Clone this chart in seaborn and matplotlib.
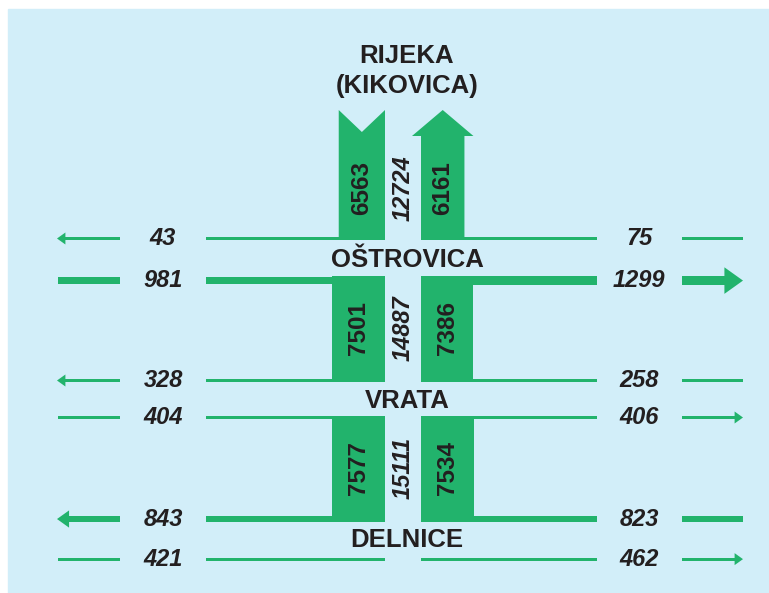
import matplotlib
matplotlib.use("Agg")
import matplotlib.pyplot as plt
import seaborn as sns
from matplotlib import font_manager
from matplotlib.patches import Polygon, Rectangle

# Traffic counts (vehicles/day)
nodes = ["RIJEKA\n(KIKOVICA)", "OŠTROVICA", "VRATA", "DELNICE"]
seg_down = [6563, 7501, 7577]      # left bars, Rijeka -> Delnice
seg_up = [6161, 7386, 7534]        # right bars, Delnice -> Rijeka
seg_total = [12724, 14887, 15111]
left_out = [43, 328, 843]          # leaving to the left (upper rows)
left_in = [981, 404, 421]          # coming from the left (lower rows)
right_in = [75, 258, 823]          # coming from the right (upper rows)
right_out = [1299, 406, 462]       # leaving to the right (lower rows)

# Layout (pixel space)
GREEN = "#22b36c"
BG = "#d2eef9"
INK = "#231f20"
SCALE = 0.00705                    # px per vehicle
XC_L, XC_R = 385, 421              # inner edges of the bars
seg_top = [110, 276, 416]
seg_bot = [240, 382, 522]
label_y = [71, 260, 401, 540]

sns.set_theme(style="white")
names = {f.name for f in font_manager.fontManager.ttflist}
num_font = "Liberation Sans Narrow" if "Liberation Sans Narrow" in names else "Liberation Sans"
num_size = 19.5 if num_font == "Liberation Sans Narrow" else 17
plt.rcParams["font.family"] = ["Liberation Sans", "DejaVu Sans"]

fig = plt.figure(figsize=(7.69, 5.93), dpi=100)
ax = fig.add_axes([0, 0, 1, 1])
ax.set_xlim(0, 769)
ax.set_ylim(593, 0)
ax.axis("off")
ax.add_patch(Rectangle((8, 9), 761, 584, color=BG, zorder=0))


def thick(v):
    return max(v * SCALE, 3.0)


def hline(x0, x1, yc, t):
    ax.barh(yc, x1 - x0, left=x0, height=t, color=GREEN, linewidth=0, zorder=2)


def arrow(tip, tail, yc, t):
    hw = max(2.9 * t, 12)
    hl = 0.7 * hw
    d = 1 if tail > tip else -1
    hline(min(tip + d * (hl - 1), tail), max(tip + d * (hl - 1), tail), yc, t)
    ax.add_patch(Polygon([(tip, yc), (tip + d * hl, yc - hw / 2), (tip + d * hl, yc + hw / 2)],
                         closed=True, color=GREEN, linewidth=0, zorder=2))


def num(x, y, v, rot=0):
    ax.text(x, y, str(v), ha="center", va="center", rotation=rot, fontsize=num_size,
            family=num_font, fontweight="bold", style="italic", color=INK, zorder=4)


def bar_num(x, y, v):
    ax.text(x, y, str(v), ha="center", va="center", rotation=90, fontsize=17.5,
            fontweight="bold", color=INK, zorder=4)


# side flows at each node
for i in range(3):
    t_up = [thick(left_out[i]), thick(right_in[i])]
    y_up = seg_bot[i] - max(t_up) / 2
    t_lo = [thick(left_in[i]), thick(right_out[i])]
    lo_top = seg_top[i + 1] if i + 1 < 3 else 557.5
    y_lo = lo_top + max(t_lo) / 2

    # upper row: out to the left, in from the right
    arrow(57, 120, y_up, t_up[0])
    hline(206, XC_L, y_up, t_up[0])
    num(163, y_up, left_out[i])
    hline(XC_R, 597, y_up, t_up[1])
    hline(682, 743, y_up, t_up[1])
    num(639, y_up, right_in[i])

    # lower row: in from the left, out to the right
    hline(58, 120, y_lo, t_lo[0])
    hline(206, XC_L, y_lo, t_lo[0])
    num(163, y_lo, left_in[i])
    hline(XC_R, 597, y_lo, t_lo[1])
    arrow(743, 682, y_lo, t_lo[1])
    num(639, y_lo, right_out[i])

# main road segments
for i in range(3):
    wd = seg_down[i] * SCALE
    wu = seg_up[i] * SCALE
    top, bot = seg_top[i], seg_bot[i]
    if i == 0:
        notch, head = 22, 26
        ax.add_patch(Polygon([(XC_L - wd, bot), (XC_L - wd, top), (XC_L - wd / 2, top + notch),
                              (XC_L, top), (XC_L, bot)], closed=True, color=GREEN,
                             linewidth=0, zorder=3))
        ov = 9
        ax.add_patch(Polygon([(XC_R, bot), (XC_R, top + head), (XC_R - ov, top + head),
                              (XC_R + wu / 2, top), (XC_R + wu + ov, top + head),
                              (XC_R + wu, top + head), (XC_R + wu, bot)], closed=True,
                             color=GREEN, linewidth=0, zorder=3))
        yc = (top + head + bot) / 2
    else:
        ax.bar(XC_L - wd, bot - top, width=wd, bottom=top, align="edge",
               color=GREEN, linewidth=0, zorder=3)
        ax.bar(XC_R, bot - top, width=wu, bottom=top, align="edge",
               color=GREEN, linewidth=0, zorder=3)
        yc = (top + bot) / 2 - 1
    bar_num(XC_L - wd / 2, yc, seg_down[i])
    bar_num(XC_R + wu / 2, yc, seg_up[i])
    num((XC_L + XC_R) / 2, yc, seg_total[i], rot=90)

# node names
for name, y in zip(nodes, label_y):
    ax.text(407, y, name, ha="center", va="center", fontsize=18.5, fontweight="bold",
            color=INK, linespacing=1.3, zorder=4)

fig.savefig("out.png", dpi=100)
